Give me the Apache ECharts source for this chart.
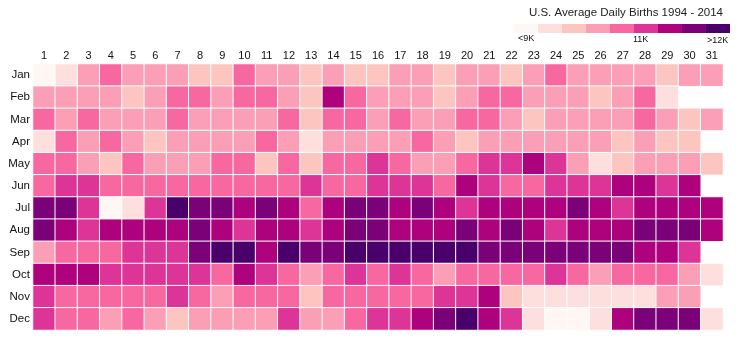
<!DOCTYPE html>
<html>
<head>
<meta charset="utf-8">
<script src="https://cdn.jsdelivr.net/npm/echarts@6/dist/echarts.min.js"></script>
<style>
  html, body { margin: 0; padding: 0; background: #fff; }
  #chart { width: 744px; height: 353px; }
</style>
</head>
<body>
<div id="chart"></div>
<script>
// average daily births, thousands
const days = ['1','2','3','4','5','6','7','8','9','10','11','12','13','14','15','16',
  '17','18','19','20','21','22','23','24','25','26','27','28','29','30','31']
const months = ['Jan','Feb','Mar','Apr','May','Jun','Jul','Aug','Sep','Oct','Nov','Dec']

const jan = [8.8,9.2,10.0,10.4,10.0,10.0,10.0,9.6,9.6,10.4,10.0,10.0,9.6,10.0,9.6,9.6,10.0,10.0,9.6,10.0,10.0,9.6,10.0,10.4,10.0,10.0,10.0,10.0,9.6,10.0,10.0]
const feb = [10.0,10.0,10.0,10.0,9.6,10.0,10.4,10.4,10.0,10.4,10.4,10.0,9.6,11.2,10.4,10.0,10.0,10.0,9.6,10.0,10.4,10.4,10.0,10.0,10.0,9.6,10.0,10.4,9.2]
const mar = [10.4,10.0,10.4,10.0,10.0,10.0,10.4,10.0,10.0,10.0,10.0,10.4,9.6,10.4,10.4,10.0,10.4,10.0,10.0,10.4,10.4,10.0,9.6,10.0,10.0,10.0,10.0,10.4,10.0,9.6,10.0]
const apr = [9.2,10.4,10.0,10.4,10.0,9.6,10.0,10.0,10.0,10.0,10.4,10.0,9.2,10.0,10.0,10.0,10.0,10.4,10.0,9.6,10.0,10.0,10.0,10.0,10.0,10.0,9.6,10.0,9.6,9.6]
const may = [10.4,10.4,10.0,9.6,10.4,10.0,10.0,10.0,10.4,10.4,9.6,10.4,9.6,10.4,10.4,10.8,10.4,10.0,10.0,10.4,10.8,10.8,11.2,10.8,10.0,9.2,9.6,10.0,10.0,10.0,9.6]
const jun = [10.4,10.8,10.8,10.4,10.4,10.4,10.4,10.4,10.4,10.4,10.4,10.4,10.8,10.4,10.4,10.8,10.8,10.8,10.4,11.2,10.8,10.4,10.4,10.8,10.8,10.8,11.2,11.2,10.8,11.2]
const jul = [11.7,11.7,10.8,8.8,9.2,10.8,12.2,11.7,11.7,11.2,11.7,11.2,10.4,11.2,11.7,11.7,11.2,11.7,11.2,10.8,11.2,11.2,11.2,11.2,11.7,11.2,10.8,11.2,11.2,11.2,11.2]
const aug = [11.7,11.2,10.8,11.2,11.2,11.2,11.2,11.7,11.2,10.8,11.2,11.2,10.8,11.2,11.7,11.7,11.2,11.2,11.2,11.7,11.2,11.7,11.2,10.8,11.2,11.2,11.2,11.7,11.7,11.7,11.2]
const sep = [10.0,10.4,10.4,10.4,10.8,10.8,10.8,11.7,12.2,12.2,11.2,12.2,11.7,11.7,12.2,12.2,12.2,12.2,12.2,12.2,11.7,11.7,11.7,11.7,11.7,11.7,11.7,11.2,11.2,10.8]
const oct = [11.2,11.2,11.2,10.8,10.8,10.8,10.8,10.8,10.4,11.2,10.8,10.4,10.0,10.4,10.8,10.4,10.8,10.4,10.0,10.4,10.4,10.4,10.4,10.8,10.4,10.0,10.4,10.4,10.4,10.0,9.2]
const nov = [10.8,10.4,10.4,10.4,10.4,10.4,10.8,10.4,10.0,10.4,10.4,10.4,9.6,10.4,10.4,10.4,10.4,10.4,10.8,10.8,11.2,9.6,9.2,9.2,9.2,9.2,9.2,9.2,10.0,10.0]
const dec = [10.8,10.4,10.4,10.0,10.4,10.0,9.6,10.0,10.0,10.0,10.0,10.8,10.0,10.0,10.4,10.8,10.8,11.2,11.7,12.2,11.2,10.8,9.2,8.8,8.8,9.2,11.2,11.7,11.7,11.7,9.2]

const rows = [jan, feb, mar, apr, may, jun, jul, aug, sep, oct, nov, dec]

// colour bins, thousands
const binEdges = [9.0, 9.4, 9.8, 10.2, 10.6, 11.0, 11.4, 12.0]
const binColors = ['#fff7f3','#fde0dd','#fcc5c0','#fa9fb5','#f768a1','#dd3497','#ae017e','#7a0177','#49006a']

const data = []
rows.forEach((row, m) => {
  row.forEach((v, d) => data.push([d, m, v]))
})

const pieces = binColors.map((c, i) => {
  const p = { color: c }
  if (i > 0) p.gte = binEdges[i - 1]
  if (i < binEdges.length) p.lt = binEdges[i]
  return p
})

const font = 'Liberation Sans, Arial, Helvetica, sans-serif'
const chart = echarts.init(document.getElementById('chart'))

chart.setOption({
  animation: false,
  textStyle: { fontFamily: font },
  title: {
    text: 'U.S. Average Daily Births 1994 - 2014',
    right: 16,
    top: 2,
    textStyle: { fontSize: 11.5, fontWeight: 'normal', color: '#222', fontFamily: font },
  },
  grid: { left: 33, top: 64, width: 690, height: 266 },
  xAxis: {
    type: 'category',
    data: days,
    position: 'top',
    axisLine: { show: false },
    axisTick: { show: false },
    axisLabel: { color: '#111', fontSize: 11, margin: 3, interval: 0 },
    splitLine: { show: false },
  },
  yAxis: {
    type: 'category',
    data: months,
    inverse: true,
    axisLine: { show: false },
    axisTick: { show: false },
    axisLabel: { color: '#111', fontSize: 11.5, margin: 3 },
    splitLine: { show: false },
  },
  visualMap: {
    type: 'piecewise',
    pieces: pieces,
    orient: 'horizontal',
    right: 14,
    top: 24,
    itemWidth: 24,
    itemHeight: 9,
    itemGap: 0,
    itemSymbol: 'rect',
    showLabel: false,
    selectedMode: false,
    padding: 0,
  },
  graphic: [
    { type: 'text', left: 518, top: 34, style: { text: '<9K', fontSize: 9, fill: '#111', fontFamily: font } },
    { type: 'text', left: 633, top: 35, style: { text: '11K', fontSize: 9, fill: '#111', fontFamily: font } },
    { type: 'text', left: 707, top: 36.5, style: { text: '>12K', fontSize: 9, fill: '#111', fontFamily: font } },
  ],
  series: [
    {
      type: 'heatmap',
      data: data,
      itemStyle: { borderColor: '#fff', borderWidth: 1 },
      emphasis: { disabled: true },
    },
  ],
})
</script>
</body>
</html>
